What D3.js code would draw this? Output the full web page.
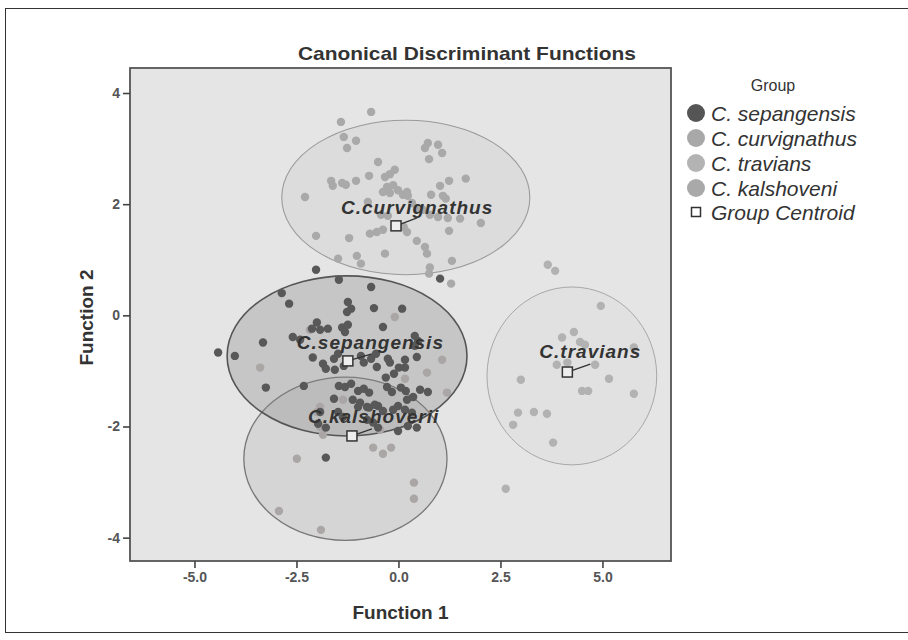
<!DOCTYPE html>
<html>
<head>
<meta charset="utf-8">
<script src="https://cdn.jsdelivr.net/npm/d3@7/dist/d3.min.js"></script>
<style>
  html, body { margin: 0; padding: 0; background: #fff; }
  svg { display: block; font-family: "Liberation Sans", Arial, Helvetica, sans-serif; }
</style>
</head>
<body>
<svg id="chart" width="908" height="640"></svg>
<script>
// ---------------- DATA ----------------
const groups = ["C. sepangensis", "C. curvignathus", "C. travians", "C. kalshoveni"];

const sepangensis = [
  [-2.02,0.82],[-1.46,0.64],[-0.67,0.51],[-2.86,0.40],[-2.68,0.21],[-1.24,0.24],[-1.16,0.12],[-1.26,0.06],
  [-0.60,0.13],[0.09,0.12],[1.02,0.66],[0.40,-0.37],[0.48,-0.46],[0.40,-0.55],[0.16,-0.94],[0.18,-1.36],
  [0.23,-1.99],[-2.00,-0.13],[-2.12,-0.24],[-1.92,-0.26],[-1.73,-0.24],[-1.38,-0.22],[-1.24,-0.17],[-1.31,-0.30],
  [-0.38,-0.21],[-2.59,-0.39],[-2.41,-0.44],[-3.32,-0.49],[-4.01,-0.73],[-4.42,-0.67],[-3.25,-1.30],[-2.32,-1.27],
  [-2.10,-0.76],[-1.85,-0.87],[-1.78,-0.96],[-1.58,-0.78],[-1.48,-0.69],[-1.34,-0.91],[-0.92,-0.73],[-0.85,-0.85],
  [-0.67,-0.78],[-0.55,-0.69],[-0.26,-0.78],[-0.31,-1.12],[-0.11,-1.05],[-1.46,-1.27],[-1.16,-1.23],[-0.99,-1.36],
  [-0.85,-1.32],[-0.72,-1.39],[-1.58,-1.50],[-0.99,-1.65],[-0.72,-1.66],[-0.50,-1.63],[-0.38,-1.72],[-0.01,-1.63],
  [-1.97,-1.95],[-1.78,-2.02],[-0.50,-2.02],[-0.01,-2.08],[-1.78,-2.56],[0.01,-0.94],[0.06,-1.30],[-1.56,-0.98],
  [-0.53,-0.93],[-0.21,-0.85],[0.16,-0.80],[0.45,-0.75],[0.53,-1.34],[0.72,-1.38],[0.36,-1.47],[0.21,-1.52],
  [-1.31,-1.29],[-0.28,-1.29],[-0.16,-1.38],[-1.12,-1.52],[-0.94,-1.57],[-0.77,-1.65],[-0.58,-1.61],[-0.13,-1.70],
  [0.16,-1.70],[0.33,-1.75],[-1.92,-1.74],[-1.48,-1.74],[-1.36,-1.83],[-0.77,-1.88],[-0.62,-1.93],[0.45,-2.02]
];

const curvignathus = [
  [-0.67,3.66],[-1.41,3.48],[-1.34,3.21],[-1.04,3.14],[-1.26,3.01],[-0.50,2.76],[-0.09,2.62],[-0.21,2.54],
  [-0.33,2.49],[-1.65,2.42],[-1.61,2.33],[-1.38,2.38],[-1.29,2.35],[-1.04,2.42],[-0.72,2.51],[-2.29,2.13],
  [-0.28,2.31],[-0.13,2.34],[-0.01,2.25],[-0.21,2.20],[-0.38,2.22],[0.11,2.17],[0.21,2.22],[-0.75,2.04],
  [-0.43,1.81],[-0.26,1.79],[-0.70,1.47],[-0.53,1.50],[-0.38,1.54],[-2.02,1.43],[-1.21,1.39],[-0.33,1.11],
  [-1.48,1.02],[-1.02,1.07],[-0.92,0.93],[0.72,3.10],[0.65,3.01],[0.97,3.07],[1.07,2.92],[0.75,2.81],
  [1.65,2.46],[1.24,2.42],[1.02,2.33],[0.80,2.17],[1.09,2.15],[1.16,2.10],[0.23,2.15],[0.33,2.02],
  [0.45,1.93],[0.60,1.90],[0.77,1.81],[0.97,1.77],[1.21,1.75],[1.51,1.74],[2.02,1.66],[0.13,1.59],
  [0.21,1.50],[1.24,1.52],[0.45,1.34],[0.65,1.23],[0.70,1.11],[1.31,0.98],[0.77,0.86],[0.75,0.75],[1.29,0.57]
];

const travians = [
  [3.66,0.91],[3.84,0.80],[4.96,0.17],[4.30,-0.30],[4.01,-0.40],[4.45,-0.48],[4.57,-0.53],[3.88,-0.89],
  [4.82,-0.89],[4.14,-0.85],[5.77,-0.58],[3.00,-1.16],[5.16,-1.14],[4.50,-1.36],[4.65,-1.36],[5.77,-1.41],
  [2.93,-1.75],[3.32,-1.74],[3.64,-1.77],[2.81,-1.97],[3.79,-2.29],[2.63,-3.12]
];

const kalshoveni = [
  [-2.49,-2.58],[-0.62,-2.38],[-0.38,-2.49],[-0.18,-2.38],[0.38,-3.01],[0.38,-3.30],[-2.93,-3.52],[-1.90,-3.86],
  [-1.92,-1.65],[-2.00,-1.74],[-1.36,-1.52],[-1.85,-2.15],[1.19,-1.39],[-0.45,-2.06],[-3.39,-0.94],[-2.17,-0.26],
  [-0.09,-0.03],[0.70,-1.03],[1.07,-0.80],[-1.92,-2.01],[0.16,-1.14]
];

// group centroids (Function 1, Function 2) and their labels
const centroidNames = ["C.sepangensis", "C.curvignathus", "C.travians", "C.kalshoverii"];
const centroidX = [-1.24, -0.06, 4.14, -1.14];
const centroidY = [-0.82, 1.61, -1.02, -2.17];

// enclosing ellipses (centre and radii in function units)
const ellipseCX = [-1.26, 0.18, 4.25, -1.30];
const ellipseCY = [-0.73, 2.12, -1.09, -2.58];
const ellipseRX = [2.94, 3.04, 2.08, 2.49];
const ellipseRY = [1.44, 1.39, 1.60, 1.47];

const xTicks = [-5, -2.5, 0, 2.5, 5];
const xTickLabels = ["-5.0", "-2.5", "0.0", "2.5", "5.0"];
const yTicks = [-4, -2, 0, 2, 4];
const yTickLabels = ["-4", "-2", "0", "2", "4"];

// ---------------- STYLE ----------------
const pointColors = ["#585858", "#a9a9a9", "#b2b2b2", "#aba6a6"];
const legendColors = ["#555555", "#a8a8a8", "#b3b3b3", "#a9a9a9"];
const ellStroke = ["#555", "#9a9a9a", "#a8a8a8", "#777"];
const ellFill = ["#8a8a8a", "#b8b8b8", "#c8c8c8", "#a0a0a0"];
const ellOpacity = [0.33, 0.18, 0.15, 0.22];
const ellWidth = [1.6, 1.1, 1.0, 1.3];
// label offsets (px) relative to centroid: text start, leader end
const labelDX = [-51, -55, -28, -44], labelDY = [-12, -12, -14, -13];
const leadDX = [24, 21, 23, 20], leadDY = [-7, -8, -8, -7];

// ---------------- DRAW ----------------
const svg = d3.select("#chart");
const L = 130, R = 671, T = 68, B = 561;

const x = d3.scaleLinear().domain([-6.58, 6.68]).range([L, R]);
const y = d3.scaleLinear().domain([-4.42, 4.45]).range([B, T]);

// outer frame
svg.append("rect").attr("x", 5.5).attr("y", 8.5).attr("width", 910).attr("height", 624)
  .attr("fill", "none").attr("stroke", "#333").attr("stroke-width", 1);

// title
svg.append("text").attr("x", 467).attr("y", 60).attr("text-anchor", "middle")
  .attr("font-size", 18.5).attr("font-weight", "bold").attr("fill", "#333")
  .attr("textLength", 338).attr("lengthAdjust", "spacingAndGlyphs")
  .text("Canonical Discriminant Functions");

// plot background
svg.append("rect").attr("x", L).attr("y", T).attr("width", R - L).attr("height", B - T)
  .attr("fill", "#e5e5e5");

const plot = svg.append("g");
const clip = svg.append("clipPath").attr("id", "clip");
clip.append("rect").attr("x", L).attr("y", T).attr("width", R - L).attr("height", B - T);
plot.attr("clip-path", "url(#clip)");

// ellipses: draw in order curv, travians, kalshoveni, sepangensis
const ellOrder = [1, 2, 3, 0];
ellOrder.forEach(i => {
  plot.append("ellipse")
    .attr("cx", x(ellipseCX[i])).attr("cy", y(ellipseCY[i]))
    .attr("rx", x(ellipseRX[i]) - x(0)).attr("ry", y(0) - y(ellipseRY[i]))
    .attr("fill", ellFill[i]).attr("fill-opacity", ellOpacity[i])
    .attr("stroke", ellStroke[i]).attr("stroke-width", ellWidth[i]);
});

// points
const series = [sepangensis, curvignathus, travians, kalshoveni];
[1, 2, 3, 0].forEach(i => {
  plot.append("g").selectAll("circle").data(series[i]).join("circle")
    .attr("cx", d => x(d[0])).attr("cy", d => y(d[1])).attr("r", 4.2)
    .attr("fill", pointColors[i]);
});

// centroids with labels
centroidNames.forEach((name, i) => {
  const cx = x(centroidX[i]), cy = y(centroidY[i]);
  plot.append("line").attr("x1", cx).attr("y1", cy).attr("x2", cx + leadDX[i]).attr("y2", cy + leadDY[i])
    .attr("stroke", "#333").attr("stroke-width", 1.3);
  plot.append("rect").attr("x", cx - 5).attr("y", cy - 5).attr("width", 10).attr("height", 10)
    .attr("fill", "#eeeeee").attr("stroke", "#333").attr("stroke-width", 1.5);
  plot.append("text").attr("x", cx + labelDX[i]).attr("y", cy + labelDY[i])
    .attr("font-size", 19).attr("font-weight", "bold").attr("font-style", "italic")
    .attr("letter-spacing", 1).attr("fill", "#333").text(name);
});

// plot border
svg.append("rect").attr("x", L).attr("y", T).attr("width", R - L).attr("height", B - T)
  .attr("fill", "none").attr("stroke", "#555").attr("stroke-width", 1.8);

// axes
const xAxis = svg.append("g").attr("transform", `translate(0,${B})`)
  .call(d3.axisBottom(x).tickValues(xTicks).tickSize(7).tickPadding(4)
    .tickFormat((d, i) => xTickLabels[i]));
const yAxis = svg.append("g").attr("transform", `translate(${L},0)`)
  .call(d3.axisLeft(y).tickValues(yTicks).tickSize(7).tickPadding(3)
    .tickFormat((d, i) => yTickLabels[i]));
[xAxis, yAxis].forEach(a => {
  a.select(".domain").remove();
  a.selectAll(".tick line").attr("stroke", "#444").attr("stroke-width", 1.6);
  a.selectAll(".tick text").attr("font-size", 14).attr("font-weight", "bold")
    .attr("fill", "#555").attr("font-family", "Liberation Sans, Arial, sans-serif");
});

// axis titles
svg.append("text").attr("x", (L + R) / 2).attr("y", 619).attr("text-anchor", "middle")
  .attr("font-size", 19).attr("font-weight", "bold").attr("fill", "#333").text("Function 1");
svg.append("text").attr("transform", `translate(93,${(T + B) / 2 + 3}) rotate(-90)`)
  .attr("text-anchor", "middle")
  .attr("font-size", 19).attr("font-weight", "bold").attr("fill", "#333").text("Function 2");

// legend
const lg = svg.append("g");
lg.append("text").attr("x", 773).attr("y", 91).attr("text-anchor", "middle")
  .attr("font-size", 16).attr("fill", "#333").text("Group");
groups.forEach((g, i) => {
  const cy = 113 + i * 25;
  lg.append("circle").attr("cx", 696).attr("cy", cy).attr("r", 9).attr("fill", legendColors[i]);
  lg.append("text").attr("x", 711).attr("y", cy + 8).attr("font-size", 21).attr("font-style", "italic")
    .attr("fill", "#333").text(g);
});
lg.append("rect").attr("x", 691.5).attr("y", 207.5).attr("width", 9).attr("height", 9)
  .attr("fill", "#fff").attr("stroke", "#333").attr("stroke-width", 1.5);
lg.append("text").attr("x", 711).attr("y", 220).attr("font-size", 21).attr("font-style", "italic")
  .attr("fill", "#333").text("Group Centroid");
</script>
</body>
</html>
